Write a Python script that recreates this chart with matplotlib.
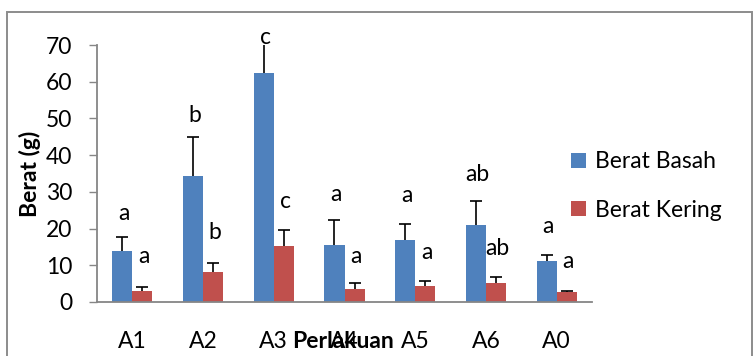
import matplotlib
matplotlib.use("Agg")
import matplotlib.pyplot as plt
from matplotlib.patches import Rectangle, Patch
import numpy as np

# Treatments and measured weights (g)
categories = ["A1", "A2", "A3", "A4", "A5", "A6", "A0"]
berat_basah = [13.9, 34.2, 62.3, 15.6, 16.9, 20.9, 11.2]
berat_basah_sd = [3.7, 10.7, 8.5, 6.7, 4.3, 6.6, 1.5]
berat_kering = [3.1, 8.1, 15.3, 3.6, 4.3, 5.1, 2.6]
berat_kering_sd = [1.1, 2.5, 4.3, 1.5, 1.4, 1.8, 0.5]

# Significance letters
notasi_basah = ["a", "b", "c", "a", "a", "ab", "a"]
notasi_kering = ["a", "b", "c", "a", "a", "ab", "a"]

# Gap (in data units) between the top of each error bar and its letter
gap_basah = [4.7, 4.2, 0.4, 5.3, 6.1, 5.5, 6.0]
gap_kering = [6.3, 6.6, 5.9, 5.4, 5.9, 5.9, 6.1]

BLUE = "#4F81BD"
RED = "#C0504D"
AXIS_GRAY = "#868686"
YMAX = 70

plt.rcParams["font.family"] = ["Lato", "DejaVu Sans"]
FS = 16.5

fig = plt.figure(figsize=(7.53, 3.56), dpi=100)
ax = fig.add_axes([97 / 753, 1 - 302 / 356, (592 - 97) / 753, (302 - 45) / 356])

x = np.arange(len(categories))
w = 0.283
xb = x - w / 2
xk = x + w / 2

ax.bar(xb, berat_basah, width=w, color=BLUE, label="Berat Basah", zorder=2)
ax.bar(xk, berat_kering, width=w, color=RED, label="Berat Kering", zorder=2)


def upper_error(xs, means, sds):
    means = np.asarray(means)
    tops = means + np.asarray(sds)
    ax.vlines(xs, means, tops, color="black", linewidth=1.2, zorder=3)
    ax.plot(xs, tops, linestyle="none", marker="_", markersize=8,
            markeredgewidth=1.2, color="black", zorder=3)
    return tops


top_b = upper_error(xb, berat_basah, berat_basah_sd)
top_k = upper_error(xk, berat_kering, berat_kering_sd)

for xi, t, g, s in zip(xb, top_b, gap_basah, notasi_basah):
    ax.text(xi + 0.02, min(t, YMAX) + g, s, ha="center", va="baseline",
            fontsize=FS, clip_on=False)
for xi, t, g, s in zip(xk, top_k, gap_kering, notasi_kering):
    ax.text(xi + 0.02, t + g, s, ha="center", va="baseline",
            fontsize=FS, clip_on=False)

ax.set_xlim(-0.5, len(categories) - 0.5)
ax.set_ylim(0, YMAX)
ax.set_yticks(np.arange(0, YMAX + 1, 10))
ax.set_xticks(x)
ax.set_xticklabels(categories)

for side in ["top", "right"]:
    ax.spines[side].set_visible(False)
for side in ["left", "bottom"]:
    ax.spines[side].set_color(AXIS_GRAY)
    ax.spines[side].set_linewidth(1.3)

ax.tick_params(axis="y", direction="out", length=6, width=1.0, color=AXIS_GRAY,
               labelsize=FS, pad=12)
ax.tick_params(axis="x", length=0, labelsize=FS, pad=21)

ax.set_ylabel("Berat (g)", fontsize=FS, fontweight="bold")
ax.yaxis.set_label_coords(-(97 - 30) / 495, 0.5)
ax.yaxis.label.set_va("center")
fig.text(343 / 753, 1 - 348 / 356, "Perlakuan", ha="center", va="baseline",
         fontsize=FS, fontweight="bold")

handles = [Patch(facecolor=BLUE), Patch(facecolor=RED)]
fig.legend(handles, ["Berat Basah", "Berat Kering"], loc="center left",
           bbox_to_anchor=(571 / 753, 1 - 186 / 356), frameon=False, fontsize=FS,
           handlelength=0.65, handleheight=0.65, handletextpad=0.4,
           labelspacing=1.2, borderpad=0, borderaxespad=0)

# Chart frame
fig.patches.append(Rectangle((7 / 753, -0.1), (752 - 7) / 753, 1 - 12 / 356 + 0.1,
                             transform=fig.transFigure, fill=False,
                             edgecolor="#8C8C8C", linewidth=1.4))

fig.savefig("out.png", dpi=100)
